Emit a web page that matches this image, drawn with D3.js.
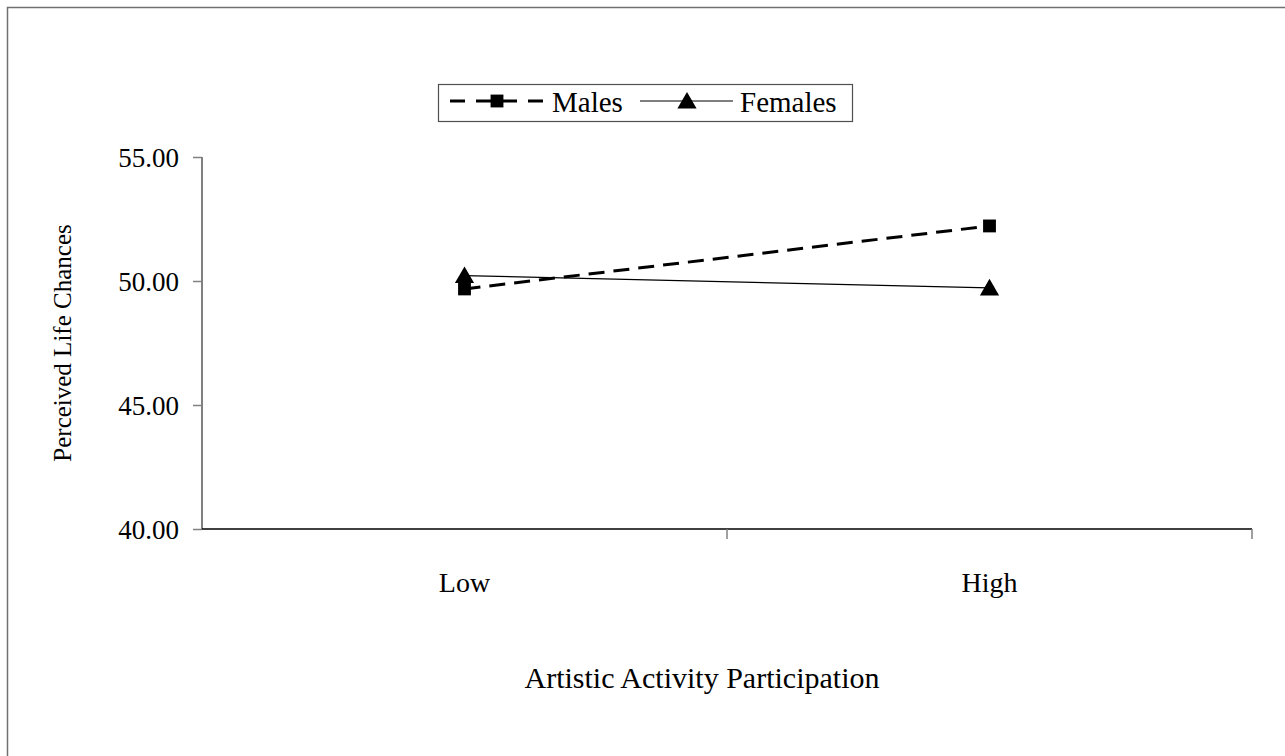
<!DOCTYPE html>
<html>
<head>
  <title>Perceived Life Chances</title>
  <script src="https://d3js.org/d3.v7.min.js"></script>
  <style>
    body { margin: 0; background: white; }
    svg text { font-family: "Liberation Serif", "Times New Roman", serif !important; fill: black; }
  </style>
</head>
<body>
<svg id="chart" width="1285" height="756" font-family="Liberation Serif"></svg>
<script>
  // data
  var categories = ["Low", "High"];
  var males = [49.68, 52.22];
  var females = [50.22, 49.72];
  var yTicks = [40, 45, 50, 55];
  var seriesNames = ["Males", "Females"];

  var svg = d3.select("#chart");
  var serif = "'Liberation Serif', 'Times New Roman', serif";

  // outer frame (runs off the right/bottom edge)
  svg.append("rect")
    .attr("x", 7.5).attr("y", 7.5)
    .attr("width", 1300).attr("height", 780)
    .attr("fill", "none").attr("stroke", "#707070").attr("stroke-width", 1.5);

  var x = d3.scaleBand(categories, [202, 1252]).padding(0);
  var y = d3.scaleLinear([40, 55], [529, 157]);

  // y axis
  var yAxis = svg.append("g").attr("transform", "translate(202,0)")
    .call(d3.axisLeft(y).tickValues(yTicks).tickSize(9).tickFormat(d3.format(".2f")));
  yAxis.attr("font-family", serif);
  yAxis.select(".domain").attr("stroke", "#808080").attr("stroke-width", 2).attr("d", "M0,157V529");
  yAxis.selectAll(".tick line").attr("stroke", "#808080").attr("stroke-width", 1.5);
  yAxis.selectAll(".tick text").attr("x", -23).attr("dy", "0.35em")
    .style("font-size", "27px");

  // x axis
  var xAxis = svg.append("g").attr("transform", "translate(0,529)");
  xAxis.append("line").attr("x1", 202).attr("x2", 1252).attr("stroke", "black").attr("stroke-width", 1.5);
  xAxis.selectAll("line.tk")
    .data(categories)
    .join("line").attr("class", "tk")
    .attr("x1", d => x(d) + x.bandwidth()).attr("x2", d => x(d) + x.bandwidth())
    .attr("y1", 0).attr("y2", 10)
    .attr("stroke", "#808080").attr("stroke-width", 1.5);
  xAxis.selectAll("text")
    .data(categories).join("text")
    .attr("x", d => x(d) + x.bandwidth() / 2).attr("y", 53)
    .attr("dy", "0.35em").attr("text-anchor", "middle")
    .style("font-size", "28px").text(d => d);

  // axis titles
  svg.append("text").attr("x", 702).attr("y", 677).attr("dy", "0.35em")
    .attr("text-anchor", "middle").style("font-size", "30px")
    .text("Artistic Activity Participation");
  svg.append("text").attr("transform", "translate(62,343) rotate(-90)")
    .attr("dy", "0.35em").attr("text-anchor", "middle")
    .style("font-size", "25px")
    .text("Perceived Life Chances");

  var cx = d => x(d) + x.bandwidth() / 2;
  var line = d3.line().x(d => cx(d[0])).y(d => y(d[1]));
  var tri = d3.symbol(d3.symbolTriangle, 160);
  var sq = d3.symbol(d3.symbolSquare, 165);

  // Females
  var fData = d3.zip(categories, females);
  svg.append("path").attr("d", line(fData))
    .attr("fill", "none").attr("stroke", "black").attr("stroke-width", 1.2);
  // Males
  var mData = d3.zip(categories, males);
  svg.append("path").attr("d", line(mData))
    .attr("fill", "none").attr("stroke", "black").attr("stroke-width", 3)
    .attr("stroke-dasharray", "16,9");

  svg.selectAll("path.ms").data(mData).join("path").attr("class", "ms")
    .attr("transform", d => `translate(${cx(d[0])},${y(d[1])})`)
    .attr("d", sq()).attr("fill", "black");
  svg.selectAll("path.fs").data(fData).join("path").attr("class", "fs")
    .attr("transform", d => `translate(${cx(d[0])},${y(d[1]) + 2})`)
    .attr("d", tri()).attr("fill", "black");

  // legend
  var lg = svg.append("g").attr("font-family", serif);
  lg.append("rect").attr("x", 438.5).attr("y", 84.5).attr("width", 414).attr("height", 37)
    .attr("fill", "white").attr("stroke", "#505050").attr("stroke-width", 1.2);
  lg.append("line").attr("x1", 450).attr("x2", 544).attr("y1", 101).attr("y2", 101)
    .attr("stroke", "black").attr("stroke-width", 3).attr("stroke-dasharray", "15,11");
  lg.append("path").attr("transform", "translate(497,101)").attr("d", sq()).attr("fill", "black");
  lg.append("line").attr("x1", 640).attr("x2", 733).attr("y1", 101).attr("y2", 101)
    .attr("stroke", "black").attr("stroke-width", 1.2);
  lg.append("path").attr("transform", "translate(687,103)").attr("d", tri()).attr("fill", "black");
  lg.selectAll("text.lt").data(seriesNames).join("text").attr("class", "lt")
    .attr("x", (d, i) => i === 0 ? 552 : 740).attr("y", 102).attr("dy", "0.35em")
    .attr("font-family", serif)
    .style("font-size", "29px").text(d => d);
</script>
</body>
</html>
